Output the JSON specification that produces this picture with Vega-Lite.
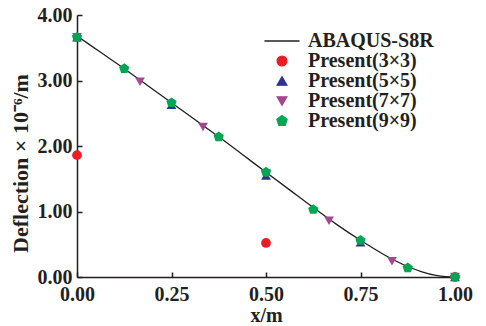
{
  "$schema": "https://vega.github.io/schema/vega-lite/v6.json",
  "width": 378,
  "height": 262,
  "autosize": {"type": "none"},
  "padding": {"left": 77, "top": 15, "right": 31, "bottom": 49},
  "background": "white",
  "config": {
    "font": "Liberation Serif",
    "view": {"stroke": null},
    "axis": {
      "grid": false,
      "labelFlush": false,
      "domainColor": "#231f20",
      "domainWidth": 1.5,
      "tickColor": "#231f20",
      "tickWidth": 1.5,
      "labelFont": "Liberation Serif",
      "labelFontWeight": "bold",
      "labelFontSize": 20,
      "labelColor": "#231f20",
      "titleFont": "Liberation Serif",
      "titleFontWeight": "bold",
      "titleFontSize": 20,
      "titleColor": "#231f20"
    }
  },
  "datasets": {
    "abaqus": [
      {"x": 0.0, "y": 3.68, "series": "ABAQUS-S8R"},
      {"x": 0.0625, "y": 3.43, "series": "ABAQUS-S8R"},
      {"x": 0.125, "y": 3.18, "series": "ABAQUS-S8R"},
      {"x": 0.1875, "y": 2.92, "series": "ABAQUS-S8R"},
      {"x": 0.25, "y": 2.66, "series": "ABAQUS-S8R"},
      {"x": 0.3125, "y": 2.40, "series": "ABAQUS-S8R"},
      {"x": 0.375, "y": 2.14, "series": "ABAQUS-S8R"},
      {"x": 0.4375, "y": 1.87, "series": "ABAQUS-S8R"},
      {"x": 0.5, "y": 1.60, "series": "ABAQUS-S8R"},
      {"x": 0.5625, "y": 1.33, "series": "ABAQUS-S8R"},
      {"x": 0.625, "y": 1.06, "series": "ABAQUS-S8R"},
      {"x": 0.6875, "y": 0.80, "series": "ABAQUS-S8R"},
      {"x": 0.75, "y": 0.56, "series": "ABAQUS-S8R"},
      {"x": 0.8125, "y": 0.34, "series": "ABAQUS-S8R"},
      {"x": 0.875, "y": 0.16, "series": "ABAQUS-S8R"},
      {"x": 0.9125, "y": 0.08, "series": "ABAQUS-S8R"},
      {"x": 0.95, "y": 0.025, "series": "ABAQUS-S8R"},
      {"x": 0.975, "y": 0.006, "series": "ABAQUS-S8R"},
      {"x": 1.0, "y": 0.0, "series": "ABAQUS-S8R"}
    ],
    "present": [
      {"x": 0.0, "y": 1.86, "series": "Present(3×3)"},
      {"x": 0.5, "y": 0.52, "series": "Present(3×3)"},
      {"x": 1.0, "y": 0.0, "series": "Present(3×3)"},
      {"x": 0.0, "y": 3.66, "series": "Present(5×5)"},
      {"x": 0.25, "y": 2.63, "series": "Present(5×5)"},
      {"x": 0.5, "y": 1.55, "series": "Present(5×5)"},
      {"x": 0.75, "y": 0.53, "series": "Present(5×5)"},
      {"x": 1.0, "y": 0.0, "series": "Present(5×5)"},
      {"x": 0.0, "y": 3.66, "series": "Present(7×7)"},
      {"x": 0.1667, "y": 2.98, "series": "Present(7×7)"},
      {"x": 0.3333, "y": 2.29, "series": "Present(7×7)"},
      {"x": 0.5, "y": 1.58, "series": "Present(7×7)"},
      {"x": 0.6667, "y": 0.86, "series": "Present(7×7)"},
      {"x": 0.8333, "y": 0.24, "series": "Present(7×7)"},
      {"x": 1.0, "y": 0.0, "series": "Present(7×7)"},
      {"x": 0.0, "y": 3.66, "series": "Present(9×9)"},
      {"x": 0.125, "y": 3.18, "series": "Present(9×9)"},
      {"x": 0.25, "y": 2.66, "series": "Present(9×9)"},
      {"x": 0.375, "y": 2.14, "series": "Present(9×9)"},
      {"x": 0.5, "y": 1.60, "series": "Present(9×9)"},
      {"x": 0.625, "y": 1.03, "series": "Present(9×9)"},
      {"x": 0.75, "y": 0.56, "series": "Present(9×9)"},
      {"x": 0.875, "y": 0.14, "series": "Present(9×9)"},
      {"x": 1.0, "y": 0.0, "series": "Present(9×9)"}
    ]
  },
  "layer": [
    {
      "data": {"name": "abaqus"},
      "mark": {"type": "line", "interpolate": "monotone", "strokeWidth": 1.3, "color": "#231f20"},
      "encoding": {
        "x": {"field": "x", "type": "quantitative"},
        "y": {"field": "y", "type": "quantitative"},
        "color": {"field": "series", "type": "nominal"}
      }
    },
    {
      "data": {"name": "present"},
      "mark": {"type": "point", "filled": true, "opacity": 1, "size": 95},
      "encoding": {
        "x": {
          "field": "x", "type": "quantitative",
          "scale": {"domain": [0, 1], "nice": false, "zero": false},
          "axis": {"values": [0, 0.25, 0.5, 0.75, 1], "format": ".2f", "tickSize": -5, "labelPadding": 12, "title": "x/m", "titlePadding": 1}
        },
        "y": {
          "field": "y", "type": "quantitative",
          "scale": {"domain": [0, 4], "nice": false},
          "axis": {"values": [0, 1, 2, 3, 4], "format": ".2f", "tickSize": -5, "labelPadding": 10, "title": "Deflection × 10⁻⁶/m", "titleFontSize": 22, "titlePadding": 5, "titleY": 148}
        },
        "color": {
          "field": "series", "type": "nominal",
          "scale": {
            "domain": ["ABAQUS-S8R", "Present(3×3)", "Present(5×5)", "Present(7×7)", "Present(9×9)"],
            "range": ["#231f20", "#ec1c24", "#2e3192", "#a3488e", "#00a651"]
          },
          "legend": {
            "title": null,
            "orient": "none",
            "legendX": 195,
            "legendY": 16,
            "labelFont": "Liberation Serif",
            "labelFontWeight": "bold",
            "labelFontSize": 20,
            "labelColor": "#231f20",
            "labelOffset": 16,
            "rowPadding": -4,
            "symbolSize": 95,
            "symbolStrokeWidth": 1.3,
            "encode": {
              "symbols": {
                "update": {
                  "stroke": {"scale": "color", "field": "value"}
                }
              }
            }
          }
        },
        "shape": {
          "field": "series", "type": "nominal",
          "scale": {
            "domain": ["ABAQUS-S8R", "Present(3×3)", "Present(5×5)", "Present(7×7)", "Present(9×9)"],
            "range": ["M-3.6,0L3.6,0", "circle", "triangle-up", "triangle-down", "M0,-1.1L1.05,-0.34L0.65,0.89L-0.65,0.89L-1.05,-0.34Z"]
          },
          "legend": null
        }
      }
    }
  ]
}
